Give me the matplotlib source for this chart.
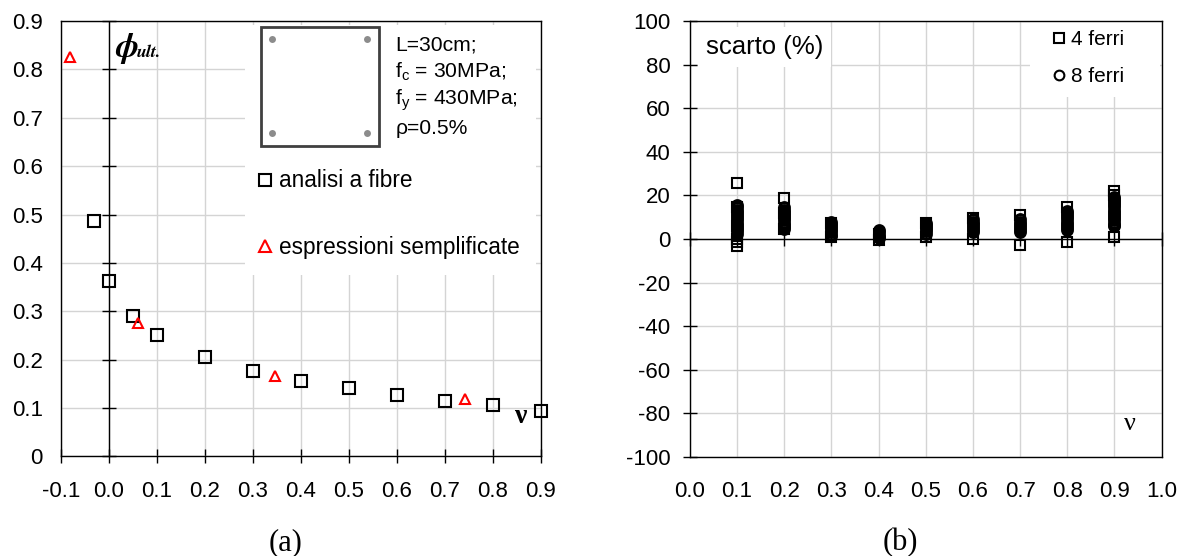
import matplotlib
matplotlib.use('Agg')
import matplotlib.pyplot as plt
from matplotlib.patches import Rectangle
from matplotlib.lines import Line2D

plt.rcParams['font.family'] = ['Liberation Sans', 'DejaVu Sans']
plt.rcParams['axes.unicode_minus'] = False
plt.rcParams['mathtext.fontset'] = 'custom'
plt.rcParams['mathtext.rm'] = 'Liberation Sans'
plt.rcParams['mathtext.it'] = 'Liberation Sans:italic'

# (a) ultimate curvature vs axial load ratio
nu_fibre = [-0.03, 0.0, 0.05, 0.1, 0.2, 0.3, 0.4, 0.5, 0.6, 0.7, 0.8, 0.9]
phi_fibre = [0.486, 0.363, 0.291, 0.251, 0.206, 0.177, 0.157, 0.141, 0.128, 0.115, 0.106, 0.093]
nu_simpl = [-0.081, 0.061, 0.347, 0.742]
phi_simpl = [0.825, 0.275, 0.166, 0.119]
xticks_a = [-0.1, 0.0, 0.1, 0.2, 0.3, 0.4, 0.5, 0.6, 0.7, 0.8, 0.9]
yticks_a = [0, 0.1, 0.2, 0.3, 0.4, 0.5, 0.6, 0.7, 0.8, 0.9]
ylabels_a = ['0', '0.1', '0.2', '0.3', '0.4', '0.5', '0.6', '0.7', '0.8', '0.9']

# (b) scarto (%) per nu, 4 ferri and 8 ferri
nu_4f = [0.1, 0.1, 0.1, 0.1, 0.1, 0.1,
         0.2, 0.2, 0.2,
         0.3, 0.3,
         0.4, 0.4,
         0.5, 0.5,
         0.6, 0.6,
         0.7, 0.7,
         0.8, 0.8,
         0.9, 0.9, 0.9]
sc_4f = [25.5, 14.8, 6.0, 0.0, -1.5, -3.2,
         18.8, 12.0, 4.5,
         7.5, 1.0,
         2.5, -0.5,
         7.5, 1.0,
         9.5, 0.0,
         10.8, -2.8,
         14.5, -1.2,
         22.0, 20.0, 1.0]
nu_8f = ([0.1] * 14 + [0.2] * 11 + [0.3] * 8 + [0.4] * 5 + [0.5] * 6
         + [0.6] * 7 + [0.7] * 7 + [0.8] * 10 + [0.9] * 15)
sc_8f = [15.5, 14.5, 13.5, 12.5, 11.5, 10.5, 9.5, 8.5, 7.5, 6.5, 5.5, 4.5, 3.5, 2.5,
         14.5, 13.5, 12.5, 11.5, 10.5, 9.5, 8.5, 7.5, 6.5, 5.5, 4.5,
         8.0, 7.0, 6.0, 5.0, 4.0, 3.0, 2.0, 1.2,
         4.0, 3.0, 2.0, 1.0, 0.3,
         7.5, 6.5, 5.5, 4.5, 3.5, 2.5,
         9.0, 8.0, 7.0, 6.0, 5.0, 4.0, 3.0,
         9.0, 8.0, 7.0, 6.0, 5.0, 4.0, 3.0,
         13.0, 12.0, 11.0, 10.0, 9.0, 8.0, 7.0, 6.0, 5.0, 4.0,
         19.5, 18.5, 17.5, 16.5, 15.5, 14.5, 13.5, 12.5, 11.5, 10.5, 9.5, 8.5, 7.5, 6.5, 6.0]
xticks_b = [0.0, 0.1, 0.2, 0.3, 0.4, 0.5, 0.6, 0.7, 0.8, 0.9, 1.0]
yticks_b = [-100, -80, -60, -40, -20, 0, 20, 40, 60, 80, 100]

fig = plt.figure(figsize=(11.79, 5.56), dpi=100)
grid_kw = dict(color='#d4d4d4', lw=1)

# ---------- (a) ----------
ax = fig.add_axes([0.0515, 0.179, 0.4070, 0.7833])
ax.set_xlim(-0.1, 0.9)
ax.set_ylim(0, 0.9)
ax.set_xticks(xticks_a)
ax.set_xticklabels(['%.1f' % v for v in xticks_a])
ax.set_yticks(yticks_a)
ax.set_yticklabels(ylabels_a)
ax.grid(True, **grid_kw)
ax.set_axisbelow(True)
ax.tick_params(axis='x', direction='inout', length=10, width=1, pad=13, labelsize=16)
ax.tick_params(axis='y', length=0, pad=13, labelsize=16)
for s in ax.spines.values():
    s.set_linewidth(1)

# vertical axis crossing at nu = 0, with its tick marks
ax.axvline(0, color='black', lw=1, zorder=2)
ax.plot([0] * len(yticks_a), yticks_a, ls='none', marker='_', ms=10, mew=1,
        color='black', zorder=2, clip_on=False)

# white area behind the inset
ax.add_patch(Rectangle((0.384, 0.417), 0.606, 0.573, transform=ax.transAxes,
                       facecolor='white', edgecolor='none', zorder=1))

ax.plot(nu_fibre, phi_fibre, 's', ms=8.5, mfc='none', mec='black', mew=1.5, zorder=3,
        clip_on=False)
ax.plot(nu_simpl, phi_simpl, '^', ms=7.5, mfc='none', mec='red', mew=1.5, zorder=3,
        clip_on=False)

# section sketch
ax.add_patch(Rectangle((0.4175, 0.713), 0.2465, 0.2725, transform=ax.transAxes,
                       facecolor='white', edgecolor='#404040', lw=2, zorder=2))
ax.plot([0.4398, 0.6378, 0.4398, 0.6378], [0.958, 0.958, 0.742, 0.742],
        ls='none', marker='o', ms=5, color='#8c8c8c', mec='none',
        transform=ax.transAxes, zorder=3)
info = ['L=30cm;', r'f$_{\mathrm{c}}$ = 30MPa;', r'f$_{\mathrm{y}}$ = 430MPa;', 'ρ=0.5%']
for line, yy in zip(info, [0.945, 0.8836, 0.8186, 0.7536]):
    ax.text(0.697, yy, line, transform=ax.transAxes, fontsize=15.2, va='center', zorder=4)

h1 = Line2D([], [], ls='none', marker='s', ms=8, mfc='none', mec='black', mew=1.5)
h2 = Line2D([], [], ls='none', marker='^', ms=8, mfc='none', mec='red', mew=1.5)
ax.legend([h1, h2], ['analisi a fibre', 'espressioni semplificate'],
          loc='upper left', bbox_to_anchor=(0.4116, 0.659), frameon=False,
          fontsize=16.3, handlelength=0.6, handletextpad=0.3, labelspacing=1.94,
          borderaxespad=0, borderpad=0)

ax.text(0.013, 0.843, 'ϕ', fontsize=25, family='STIXGeneral', weight='bold',
        style='italic', va='center', ha='left')
ax.text(0.058, 0.834, 'ult.', fontsize=13, family='STIXGeneral', weight='bold',
        style='italic', va='center', ha='left')
ax.text(0.858, 0.082, 'ν', fontsize=20, family='Liberation Serif', weight='bold',
        va='center', ha='center')

# ---------- (b) ----------
bx = fig.add_axes([0.5852, 0.178, 0.4, 0.7842])
bx.set_xlim(0, 1.0)
bx.set_ylim(-100, 100)
bx.set_xticks(xticks_b)
bx.set_xticklabels(['%.1f' % v for v in xticks_b])
bx.set_yticks(yticks_b)
bx.grid(True, **grid_kw)
bx.set_axisbelow(True)
bx.tick_params(axis='x', length=0, pad=17, labelsize=16)
bx.tick_params(axis='y', direction='inout', length=10, width=1, pad=9, labelsize=16)
for s in bx.spines.values():
    s.set_linewidth(1)

# horizontal axis crossing at scarto = 0, with its tick marks
bx.axhline(0, color='black', lw=1, zorder=2)
bx.plot(xticks_b, [0] * len(xticks_b), ls='none', marker='|', ms=10, mew=1,
        color='black', zorder=2, clip_on=False)

bx.plot(nu_8f, sc_8f, 'o', ms=7, mfc='none', mec='black', mew=2.2, zorder=3)
bx.plot(nu_4f, sc_4f, 's', ms=7, mfc='none', mec='black', mew=1.5, zorder=3)

bx.text(0.0335, 88.2, 'scarto (%)', fontsize=18.5, va='center', ha='left',
        bbox=dict(facecolor='white', edgecolor='none', pad=6), zorder=4)

# white area behind the legend
bx.add_patch(Rectangle((0.721, 0.826), 0.276, 0.172, transform=bx.transAxes,
                       facecolor='white', edgecolor='none', zorder=1))
g1 = Line2D([], [], ls='none', marker='s', ms=7, mfc='none', mec='black', mew=1.5)
g2 = Line2D([], [], ls='none', marker='o', ms=7, mfc='none', mec='black', mew=1.5)
bx.legend([g1, g2], ['4 ferri', '8 ferri'], loc='upper left',
          bbox_to_anchor=(0.769, 0.979), frameon=False,
          fontsize=15, handlelength=0.6, handletextpad=0.28, labelspacing=0.85,
          borderaxespad=0, borderpad=0)
bx.text(0.933, -85, 'ν', fontsize=19, family='Liberation Serif', va='center', ha='center')

fig.text(286 / 1179, 1 - 543 / 556, '(a)', fontsize=22, family='Liberation Serif',
         ha='center', va='center')
fig.text(900 / 1179, 1 - 543 / 556, '(b)', fontsize=22, family='Liberation Serif',
         ha='center', va='center')

fig.savefig('out.png', dpi=100)
